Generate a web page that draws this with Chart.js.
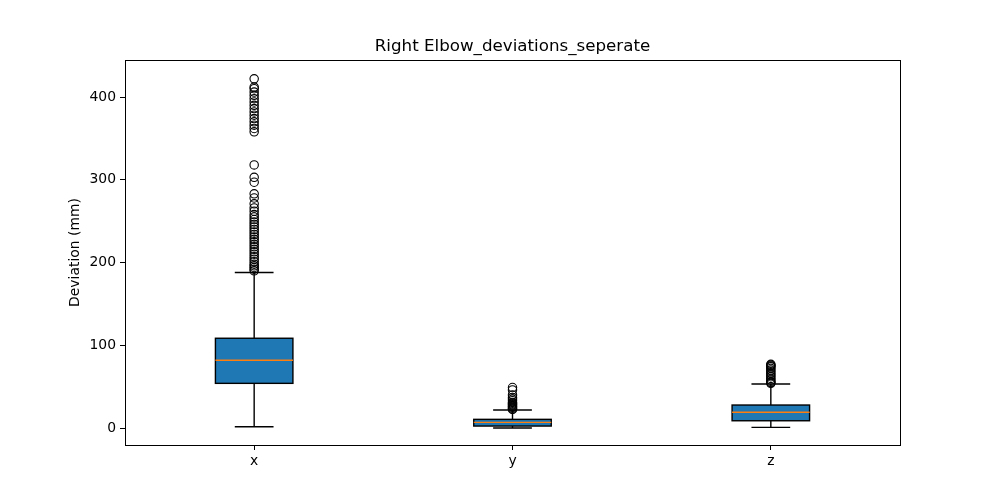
<!DOCTYPE html>
<html>
<head>
<meta charset="utf-8">
<script src="https://cdn.jsdelivr.net/npm/chart.js@4/dist/chart.umd.min.js"></script>
<style>
html,body{margin:0;padding:0;background:#fff;}
canvas{display:block;}
</style>
</head>
<body>
<canvas id="c" width="1000" height="500"></canvas>
<script>
const categories = ['x', 'y', 'z'];
const positions = [1, 2, 3];
const whiskerLow = [1.5, 0, 0.8];
const q1 = [54, 2.4, 8.8];
const median = [82, 6.9, 19];
const q3 = [108.5, 10.5, 27.8];
const whiskerHigh = [188, 21.8, 53.2];
const outliersX = [422, 412, 410, 406, 402, 398, 394, 390, 386, 382, 378, 374, 370, 366, 362, 358,
  318, 303, 297, 283, 278, 271, 266, 262, 258, 255, 252, 249, 246, 243, 240, 237, 234, 231, 228,
  225, 222, 219, 216, 213, 210, 207, 204, 201, 198, 196, 194, 192, 190];
const outliersY = [49, 46, 40, 37, 35, 33, 31, 30, 29, 28, 27, 26, 25, 24, 23, 22.5];
const outliersZ = [77, 76, 75, 74, 72, 70, 68, 66, 64, 62, 60, 58, 56, 55, 54];
const yTicks = [0, 100, 200, 300, 400];
const yMin = -20.5, yMax = 444.7;

const outlierGroups = [outliersX, outliersY, outliersZ];
const outlierPoints = [];
outlierGroups.forEach((arr, i) => arr.forEach(v => outlierPoints.push({x: positions[i], y: v})));

const FONT = 'DejaVu Sans';
const boxWidth = 0.3, capWidth = 0.15;

const boxPlugin = {
  id: 'boxes',
  beforeDatasetsDraw(chart) {
    const ctx = chart.ctx;
    const xs = chart.scales.x, ys = chart.scales.y;
    ctx.save();
    ctx.lineWidth = 1.4;
    positions.forEach((p, i) => {
      const xc = xs.getPixelForValue(p);
      const xl = xs.getPixelForValue(p - boxWidth / 2);
      const xr = xs.getPixelForValue(p + boxWidth / 2);
      const cl = xs.getPixelForValue(p - capWidth / 2);
      const cr = xs.getPixelForValue(p + capWidth / 2);
      const yq1 = ys.getPixelForValue(q1[i]);
      const yq3 = ys.getPixelForValue(q3[i]);
      const ym = ys.getPixelForValue(median[i]);
      const ylo = ys.getPixelForValue(whiskerLow[i]);
      const yhi = ys.getPixelForValue(whiskerHigh[i]);
      ctx.strokeStyle = '#000';
      ctx.beginPath();
      ctx.moveTo(xc, yq1); ctx.lineTo(xc, ylo);
      ctx.moveTo(xc, yq3); ctx.lineTo(xc, yhi);
      ctx.moveTo(cl, ylo); ctx.lineTo(cr, ylo);
      ctx.moveTo(cl, yhi); ctx.lineTo(cr, yhi);
      ctx.stroke();
      ctx.fillStyle = '#1f77b4';
      ctx.fillRect(xl, yq3, xr - xl, yq1 - yq3);
      ctx.strokeRect(xl, yq3, xr - xl, yq1 - yq3);
      ctx.strokeStyle = '#ff7f0e';
      ctx.beginPath();
      ctx.moveTo(xl, ym); ctx.lineTo(xr, ym);
      ctx.stroke();
    });
    ctx.restore();
  },
  afterDraw(chart) {
    const ctx = chart.ctx;
    const a = chart.chartArea;
    ctx.save();
    ctx.strokeStyle = '#000';
    ctx.lineWidth = 1;
    ctx.strokeRect(Math.round(a.left) + 0.5, Math.round(a.top) + 0.5,
      Math.round(a.right - a.left), Math.round(a.bottom - a.top));
    ctx.restore();
  }
};

new Chart(document.getElementById('c'), {
  type: 'scatter',
  data: {
    datasets: [{
      data: outlierPoints,
      pointRadius: 4.2,
      pointHoverRadius: 4.2,
      pointBorderWidth: 1.1,
      pointBorderColor: '#000',
      pointBackgroundColor: 'rgba(0,0,0,0)'
    }]
  },
  options: {
    responsive: false,
    animation: false,
    devicePixelRatio: 1,
    layout: {padding: {left: 25, right: 0, top: 37, bottom: 0}},
    plugins: {
      legend: {display: false},
      tooltip: {enabled: false},
      title: {
        display: true,
        text: 'Right Elbow_deviations_seperate',
        color: '#000',
        font: {family: FONT, size: 16.7, weight: 'normal'},
        padding: {top: 0, bottom: 3}
      }
    },
    scales: {
      x: {
        type: 'linear',
        min: 0.5, max: 3.5,
        afterBuildTicks(scale) { scale.ticks = positions.map(v => ({value: v})); },
        afterFit(scale) { scale.height = 55; },
        ticks: {
          color: '#000',
          font: {family: FONT, size: 13.9},
          padding: 3,
          maxRotation: 0,
          callback: (v) => categories[positions.indexOf(v)] ?? ''
        },
        grid: {display: true, drawOnChartArea: false, drawTicks: true, tickLength: 5, color: '#000'},
        border: {display: true, color: '#000', width: 1}
      },
      y: {
        type: 'linear',
        position: 'left',
        min: yMin, max: yMax,
        afterBuildTicks(scale) { scale.ticks = yTicks.map(v => ({value: v})); },
        afterFit(scale) { scale.width = 100; },
        ticks: {
          color: '#000',
          font: {family: FONT, size: 13.9},
          padding: 4
        },
        grid: {display: true, drawOnChartArea: false, drawTicks: true, tickLength: 5, color: '#000'},
        border: {display: true, color: '#000', width: 1},
        title: {
          display: true,
          text: 'Deviation (mm)',
          color: '#000',
          font: {family: FONT, size: 13.9},
          padding: {top: 42, bottom: 0}
        }
      },
      yRight: {
        type: 'linear',
        position: 'right',
        display: true,
        min: yMin, max: yMax,
        afterFit(scale) { scale.width = 100; },
        ticks: {display: false},
        grid: {display: false},
        border: {display: false}
      }
    }
  },
  plugins: [boxPlugin]
});
</script>
</body>
</html>
